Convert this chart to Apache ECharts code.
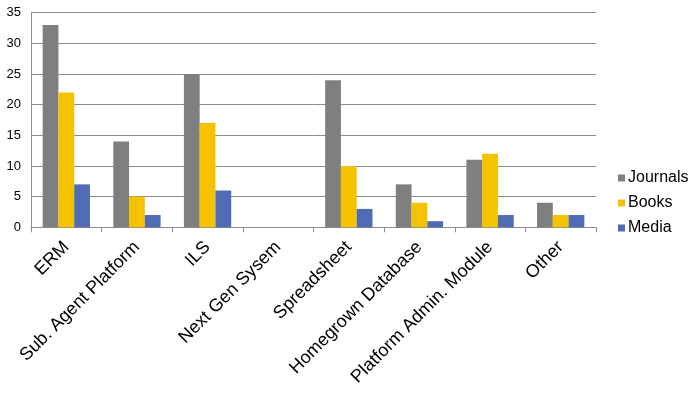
<!DOCTYPE html>
<html><head><meta charset="utf-8">
<script src="https://cdn.jsdelivr.net/npm/echarts@6/dist/echarts.min.js"></script>
<style>html,body{margin:0;padding:0;background:#fff}#c{width:700px;height:402px}</style>
</head><body><div id="c"></div>
<script>
var categories = ["ERM","Sub. Agent Platform","ILS","Next Gen Sysem","Spreadsheet","Homegrown Database","Platform Admin. Module","Other"];
var journals = [33,14,25,0,24,7,11,4];
var books = [22,5,17,0,10,4,12,2];
var media = [7,2,6,0,3,1,2,2];
var seriesNames = ["Journals","Books","Media"];
var colors = ["#7F7F7F","#F5C200","#4F6CB4"];

var chart = echarts.init(document.getElementById('c'), null, {renderer:'canvas'});
var font = "'Liberation Sans', Arial, sans-serif";
chart.setOption({
  animation:false,
  color: colors,
  grid:{left:31,right:104,top:12.7,bottom:174.7,containLabel:false},
  legend:{
    orient:'vertical', left:613, top:165, itemWidth:7, itemHeight:7, itemGap:9,
    icon:'rect', data:seriesNames,
    textStyle:{fontFamily:font,fontSize:16,color:'#000',padding:[0,0,0,-2]}
  },
  xAxis:{
    type:'category', data:categories, boundaryGap:true,
    axisLine:{lineStyle:{color:'#8C8C8C',width:1}},
    axisTick:{show:true,length:5,alignWithLabel:false,lineStyle:{color:'#8C8C8C'}},
    axisLabel:{rotate:45,interval:0,margin:17,fontFamily:font,fontSize:18,color:'#000'}
  },
  yAxis:{
    type:'value', min:0, max:35, interval:5,
    axisLine:{show:true,lineStyle:{color:'#8C8C8C'}},
    axisTick:{show:false},
    splitLine:{lineStyle:{color:'#8C8C8C',width:1}},
    axisLabel:{fontFamily:font,fontSize:13,color:'#000',margin:10}
  },
  series:[
    {name:seriesNames[0],type:'bar',data:journals,barGap:'0%',barCategoryGap:'33%'},
    {name:seriesNames[1],type:'bar',data:books,barGap:'0%',barCategoryGap:'33%'},
    {name:seriesNames[2],type:'bar',data:media,barGap:'0%',barCategoryGap:'33%'}
  ]
});
</script></body></html>
